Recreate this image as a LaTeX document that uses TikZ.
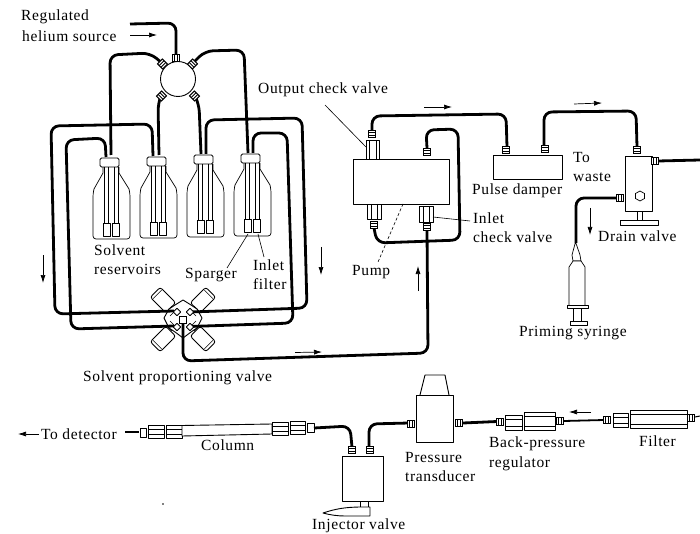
\documentclass[tikz,border=0pt]{standalone}
\usepackage{fontspec}
\setmainfont[LetterSpace=4]{Liberation Serif}
\usetikzlibrary{arrows.meta}
\tikzset{
  x=1pt,y=-1pt,
  tube/.style={line width=2.8pt,line join=round,rounded corners=8pt},
  thin part/.style={line width=.9pt,fill=white,line join=round},
  leader/.style={line width=.6pt},
  flow/.style={line width=.7pt,-{Latex[length=8pt,width=5pt]}},
  lab/.style={anchor=west,inner sep=0pt,font=\fontsize{15.5}{15.5}\selectfont},
}
\newcommand{\nutat}[3][0]{\begin{scope}[shift={(#2,#3)},rotate=#1]
 \draw[line width=1.1pt,fill=white] (-3.6,-3.4) rectangle (3.6,3.4);
 \draw[line width=.8pt] (-1.2,-3.4)--(-1.2,3.4) (1.2,-3.4)--(1.2,3.4);
 \end{scope}}
\newcommand{\bottle}[4]{%
 \begin{scope}[shift={(#1,0)}]
 \draw[thin part,line width=.7pt] (10,#2+9) -- (10,#2+15) -- (1,#2+31)
   [rounded corners=3pt] -- (0,#2+36) -- (0,#3) -- (37,#3) -- (37,#2+36)
   [sharp corners] -- (36,#2+31) -- (26,#2+15) -- (26,#2+9);
 \draw[line width=.7pt] (11,#2+9) -- (11,#4) (15,#2+9) -- (15,#4)
   (21,#2+9) -- (21,#4) (25,#2+9) -- (25,#4);
 \draw[thin part] (10,#4) rectangle (17,#4+13);
 \draw[thin part] (19,#4) rectangle (26,#4+13);
 \draw[thin part,rounded corners=1.5pt] (7,#2) rectangle (26,#2+9);
 \end{scope}}
\newcommand{\solenoid}[3]{\begin{scope}[shift={(#1,#2)},rotate=#3]
 \draw[thin part,rounded corners=2.5pt] (-7,-11) rectangle (7,11);
 \draw[line width=.6pt] (-6,-8) -- (6,-8);
 \end{scope}}
\newcommand{\vsq}[2]{\draw[thin part,rotate around={45:(#1,#2)}] (#1-2.6,#2-2.6) rectangle (#1+2.6,#2+2.6);}
\begin{document}
\begin{tikzpicture}
\useasboundingbox (0,0) rectangle (700,534);
\fill[white] (0,0) rectangle (700,534);

% --- helium
\coordinate (heS) at (130,24);
\node[draw=none,inner sep=0pt,minimum size=35pt,circle] (dist) at (178,79) {};
\draw[tube] (heS) -- (176,23) -- (176,56);
\draw[tube] (162,63) -- (150,53) -- (110,55) -- (111,155);
\draw[tube] (194,62) -- (205,51) -- (244,50) -- (248,153);
\draw[tube] (160,98) -- (158,103) -- (159,155);
\draw[tube] (196,98) -- (199,104) -- (201,154);

% valve
\solenoid{163}{300}{45}
\solenoid{203}{300}{-45}
\solenoid{163}{339}{135}
\solenoid{203}{339}{225}
\draw[thin part] (183,300) -- (191,305) -- (197,309) -- (202,318) -- (197,328) -- (191,332) -- (183,338) -- (175,332) -- (169,328) -- (164,318) -- (169,309) -- (175,305) -- cycle;
\draw[leader] (172,306) -- (166,312) (176,310) -- (170,316)
  (194,306) -- (200,312) (190,310) -- (196,316)
  (172,331) -- (166,325) (176,327) -- (170,321)
  (194,331) -- (200,325) (190,327) -- (196,321);
\coordinate (spv) at (183,319);

% --- solvent loops
\draw[tube] (153,156) -- (152,124) -- (51,126) -- (55,314) -- (174,311);
\draw[tube] (106,157) -- (105,138) -- (66,140) -- (71,329) -- (174,326);
\draw[tube] (206,154) -- (206,120) -- (302,118) -- (307,308) -- (190,312);
\draw[tube] (253,153) -- (253,133) -- (287,133) -- (293,323) -- (190,326.5);
\draw[tube] (spv) -- (183,361) -- (428,353) -- (427,230);
\vsq{177}{312}\vsq{190}{312}\vsq{177}{327}\vsq{190}{327}
\node[draw,fill=white,line width=.9pt,minimum size=6.5pt,inner sep=0pt] (spc) at (183,320) {};

% bottles
\bottle{93}{158}{239}{223}
\bottle{140}{157}{238}{222}
\bottle{187}{155}{237}{220}
\bottle{234}{154}{236}{219}

% distributor
\draw[line width=.9pt,fill=white] (dist) circle (17.5pt);
\nutat{176}{58}
\nutat[-45]{162.5}{64}
\nutat[45]{192.5}{64}
\nutat[45]{161.5}{96}
\nutat[-45]{194.5}{96}

% --- pump
\draw[tube] (374,228) -- (377,243) -- (460,240) -- (458,129) -- (426,130) -- (427,148);
\node[draw,thin part,minimum width=96pt,minimum height=45pt,inner sep=0pt] (pump) at (401,181.5) {};
\draw[thin part] (366,140) rectangle (379,159);
\draw[leader] (369,140) -- (369,159) (376,140) -- (376,159);
\draw[tube] (372,132) -- (372,116) -- (506,114) -- (507,147);
\nutat[90]{372}{134}
\nutat[90]{427}{152}
\draw[thin part] (367,204) rectangle (381,219);
\draw[leader] (371,204) -- (371,219) (377,204) -- (377,219);
\nutat[90]{374}{225}
\draw[thin part] (419,206) rectangle (433,222);
\draw[leader] (423,206) -- (423,222) (429,206) -- (429,222);
\nutat[90]{427}{227}

% --- damper
\draw[tube] (544,146) -- (544,112) -- (636,111) -- (637,147);
\node[draw,thin part,minimum width=69pt,minimum height=24pt,inner sep=0pt] (damper) at (527.5,167) {};
\nutat[90]{506}{150}
\nutat[90]{545}{149}

% --- drain valve
\draw[tube] (658,161) -- (700,160);
\draw[tube] (618,198) -- (576,198) -- (576,243);
\node[draw,thin part,minimum width=27pt,minimum height=55pt,inner sep=0pt] (drain) at (638.5,183.5) {};
\nutat[90]{637}{150}
\nutat{655}{161}
\nutat{620}{198}
\draw[line width=.7pt] (640,191) -- ++(4.5,2.5) -- ++(0,5) -- ++(-4.5,2.5) -- ++(-4.5,-2.5) -- ++(0,-5) -- cycle;
\draw[thin part] (637,211) rectangle (642,220);
\draw[thin part] (620,220) rectangle (658,225);

% --- syringe
\draw[thin part,line width=.7pt] (575.5,242) -- (572,255) -- (573,261) -- (581,261) -- (580,255) -- cycle;
\draw[thin part,line width=.7pt] (569,305) -- (569,267) -- (573,261) -- (581,261) -- (585,267) -- (585,305);
\draw[thin part,line width=.7pt] (573,308) rectangle (581,321);
\draw[thin part] (567,305) rectangle (588,308);
\draw[thin part] (570,321) rectangle (587,325);

% --- bottom line
\coordinate (det) at (125,432);
\draw[line width=2.8pt] (det) -- (139,432);
\draw[thin part] (140,428) rectangle (146,437);
\draw[thin part] (148,425) rectangle (164,438);
\draw[leader] (148,429) -- (164,429) (148,434) -- (164,434);
\draw[thin part] (166,425) rectangle (182,438);
\draw[leader] (166,429) -- (182,429) (166,434) -- (182,434);
\draw[thin part] (182,425.5) -- (272,424) -- (272,434) -- (182,436) -- cycle;
\draw[thin part] (272,422) rectangle (288,435);
\draw[leader] (272,426) -- (288,426) (272,431) -- (288,431);
\draw[thin part] (290,421) rectangle (305,434);
\draw[leader] (290,425) -- (305,425) (290,430) -- (305,430);
\draw[thin part] (307,423) rectangle (314,432);

\draw[tube] (314,428) -- (350,426) -- (352,447);
\draw[tube] (369,447) -- (369,424) -- (409,423);
\node[draw,thin part,minimum width=41pt,minimum height=45pt,inner sep=0pt] (inj) at (362.5,478.5) {};
\nutat[90]{352}{450}
\nutat[90]{370}{450}
\draw[thin part] (360,501) rectangle (368,507);
\draw[thin part] (323,513) .. controls (335,509) and (345,507) .. (362,507) -- (370,507) -- (370,516) -- (345,516) .. controls (338,516) and (330,515) .. (323,513) -- cycle;

\draw[thin part] (420,395) -- (425,375) -- (445,375) -- (449,395);
\node[draw,thin part,minimum width=37pt,minimum height=47pt,inner sep=0pt] (trans) at (434.5,418.5) {};
\nutat{411}{424}
\nutat{459}{423}
\draw[line width=2.8pt] (463,423) -- (497,421.5);
\nutat{500}{422}
\draw[thin part] (505,415) rectangle (522,430);
\draw[leader] (505,419) -- (522,419) (505,426) -- (522,426);
\draw[thin part] (524,412) rectangle (555,430);
\draw[leader] (524,416) -- (555,416) (524,426) -- (555,426);
\nutat{560}{421}
\draw[line width=1.8pt] (564,421) -- (604,420);
\nutat{607}{420}
\draw[thin part] (613,413) rectangle (628,427);
\draw[leader] (613,417) -- (628,417) (613,423) -- (628,423);
\draw[thin part] (630,410) rectangle (687,428);
\draw[leader] (630,414) -- (687,414) (630,424) -- (687,424);
\nutat{691}{418}
\coordinate (filtE) at (700,416);
\draw[line width=1pt] (695,417) -- (filtE);
\fill (163,504) circle (.8pt);

% --- leaders
\draw[leader] (325,105) -- (366,147);
\draw[leader] (248,234) -- (227,268);
\draw[leader] (258,234) -- (264,257);
\draw[leader] (433,217) -- (470,221);
\draw[leader,densely dashed] (403,204) -- (378,262);

% --- flow arrows
\draw[flow] (130,35) -- (157,35);
\draw[flow] (43,255) -- (43,283);
\draw[flow] (321,247) -- (321,275);
\draw[flow] (295,352.5) -- (322,352);
\draw[flow] (424,107) -- (452,107);
\draw[flow] (574,104) -- (602,103);
\draw[flow] (418,291) -- (418,266);
\draw[flow] (590,208) -- (590,235);
\draw[flow] (591,412) -- (569,412);
\draw[flow] (39,434) -- (18,434);

% --- labels
\node[lab] (t1) at (21,17) {Regulated};
\node[lab] (t2) at (22,36) {helium source};
\node[lab] (t3) at (258,90) {Output check valve};
\node[lab] (t4) at (94,250) {Solvent};
\node[lab] (t5) at (94,269) {reservoirs};
\node[lab] (t6) at (185,275) {Sparger};
\node[lab] (t7) at (253,265) {Inlet};
\node[lab] (t8) at (253,284) {filter};
\node[lab] (t9) at (83,378) {Solvent proportioning valve};
\node[lab] (t10) at (352,272) {Pump};
\node[lab] (t11) at (473,218) {Inlet};
\node[lab] (t12) at (473,237) {check valve};
\node[lab] (t13) at (472,191) {Pulse damper};
\node[lab] (t14) at (573,158) {To};
\node[lab] (t15) at (573,177) {waste};
\node[lab] (t16) at (598,236) {Drain valve};
\node[lab] (t17) at (519,333) {Priming syringe};
\node[lab] (t18) at (41,434) {To detector};
\node[lab] (t19) at (201,445) {Column};
\node[lab] (t20) at (405,457) {Pressure};
\node[lab] (t21) at (405,476) {transducer};
\node[lab] (t22) at (489,444) {Back-pressure};
\node[lab] (t23) at (489,464) {regulator};
\node[lab] (t24) at (639,441) {Filter};
\node[lab] (t25) at (312,526) {Injector valve};
\end{tikzpicture}
\end{document}
